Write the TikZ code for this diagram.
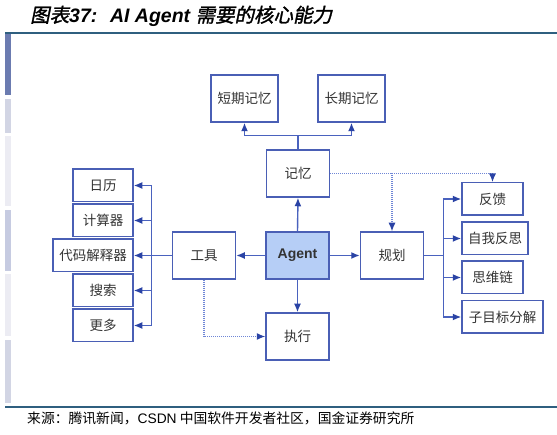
\documentclass[tikz,border=0pt]{standalone}
\usepackage{fontspec}
\setmainfont{Noto Sans CJK SC}
\newfontfamily\cjk{Noto Sans CJK SC}
\newfontfamily\cjkt[FakeSlant=0.2,FakeBold=1.5]{Noto Sans CJK SC}
\newfontfamily\lat{Liberation Sans}
\usetikzlibrary{arrows.meta,calc}
\definecolor{bx}{HTML}{4A5FB5}
\definecolor{ln}{HTML}{4A62BE}
\definecolor{ah}{HTML}{2A43A5}
\definecolor{dt}{HTML}{6F86D6}
\definecolor{txt}{HTML}{333333}
\definecolor{agfill}{HTML}{B6CEF6}
\definecolor{rule}{HTML}{2F5F7F}
\definecolor{s1}{HTML}{6B7BB0}
\definecolor{s2}{HTML}{D2D5E4}
\definecolor{s3}{HTML}{ECECF3}
\definecolor{s4}{HTML}{C6CBE1}
\tikzset{
  box/.style={draw=bx, line width=1.5pt, fill=white, text=txt, inner sep=0pt,
    font=\cjk\fontsize{13.5}{15}\selectfont},
  bigbox/.style={box, minimum width=63pt, minimum height=47pt},
  smallbox/.style={box, minimum width=60pt, minimum height=32.5pt},
  conn/.style={draw=ln, line width=1.4pt},
  arr/.style={conn, -{Latex[length=8.5pt,width=7pt,color=ah]}},
  dotarr/.style={draw=dt, line width=1.1pt, dash pattern=on 1pt off 1pt, -{Latex[length=8.5pt,width=7pt,color=ah]}},
}
\begin{document}
\begin{tikzpicture}[x=1pt,y=-1pt]
\useasboundingbox (0,0) rectangle (557,435);
% title
\node[anchor=west, inner sep=0pt, text=black] (title) at (30,16)
  {\cjkt\fontsize{19.5}{21}\selectfont 图表{\lat\bfseries\itshape 37:~ AI Agent }需要的核心能力};
% rules
\draw[rule, line width=1.4pt] (5,33) -- (557,33);
\draw[rule, line width=1.4pt] (5,407) -- (557,407);
% left strip
\fill[s1] (5,34) rectangle (11,95);
\fill[s2] (5,99) rectangle (11,133);
\fill[s3] (5,136) rectangle (11,206);
\fill[s4] (5,210) rectangle (11,271);
\fill[s3] (5,274) rectangle (11,336);
\fill[s2] (5,340) rectangle (11,403);
% source
\node[anchor=west, inner sep=0pt, text=black] (src) at (27,418)
  {\cjk\fontsize{13.8}{15}\selectfont 来源：腾讯新闻，{\lat CSDN} 中国软件开发者社区，国金证券研究所};
% nodes
\node[box, minimum width=67pt, minimum height=47pt] (stm) at (244.5,98.5) {短期记忆};
\node[box, minimum width=67pt, minimum height=47pt] (ltm) at (351.5,98.5) {长期记忆};
\node[bigbox] (mem) at (298,173.5) {记忆};
\node[bigbox, fill=agfill, font=\lat\bfseries\fontsize{14}{16}\selectfont] (agent) at (297.5,255.5) {Agent};
\node[bigbox] (plan) at (392,255.5) {规划};
\node[bigbox] (exec) at (297.5,336.5) {执行};
\node[bigbox] (tool) at (204,255.5) {工具};
\node[smallbox] (cal) at (103,185.5) {日历};
\node[smallbox] (calc) at (103,220.5) {计算器};
\node[smallbox, minimum width=80pt] (code) at (93,255.5) {代码解释器};
\node[smallbox] (srch) at (103,290.5) {搜索};
\node[smallbox] (more) at (103,325.5) {更多};
\node[smallbox, minimum width=61pt] (fb) at (492.5,199) {反馈};
\node[smallbox, minimum width=66pt] (refl) at (495,238.5) {自我反思};
\node[smallbox, minimum width=61pt] (cot) at (492.5,277.5) {思维链};
\node[smallbox, minimum width=81pt] (sub) at (502.5,317) {子目标分解};
% memory branches
\coordinate (mj) at ($(mem.north)+(0,-14)$);
\draw[conn] (mem.north) -- (mj);
\draw[arr] (mj) -| (stm.south);
\draw[arr] (mj) -| (ltm.south);
% dotted from memory
\draw[dotarr] (mem.east) -| (fb.north);
\draw[dotarr] (plan.north |- mem.east) -- (plan.north);
% agent arrows
\draw[arr] (agent.north) -- (mem.south);
\draw[arr] (agent.south) -- (exec.north);
\draw[arr] (agent.west) -- (tool.east);
\draw[arr] (agent.east) -- (plan.west);
% tool bus
\coordinate (tb) at ($(tool.west)+(-20,0)$);
\draw[conn] (tool.west) -- (tb);
\draw[conn] (tb |- cal.east) -- (tb |- more.east);
\foreach \n in {cal,calc,code,srch,more} \draw[arr] (tb |- \n.east) -- (\n.east);
% plan bus
\coordinate (pb) at ($(plan.east)+(19,0)$);
\draw[conn] (plan.east) -- (pb);
\draw[conn] (pb |- fb.west) -- (pb |- sub.west);
\foreach \n in {fb,refl,cot,sub} \draw[arr] (pb |- \n.west) -- (\n.west);
% tool to exec dotted
\draw[dotarr] (tool.south) |- (exec.west);
\end{tikzpicture}
\end{document}
